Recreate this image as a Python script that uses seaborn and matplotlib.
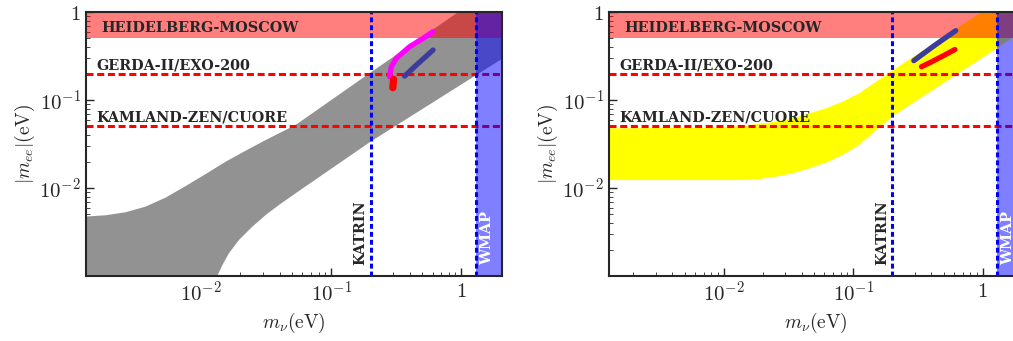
import numpy as np
import matplotlib
matplotlib.use("Agg")
import matplotlib.pyplot as plt
import seaborn as sns
from matplotlib.ticker import LogLocator, NullFormatter

# Axis ranges
X_MIN, X_MAX = 1.3e-3, 2.05
Y_MIN, Y_MAX = 1e-3, 1.0

# Experimental bounds (eV)
hm_low, hm_high = 0.5, 1.0
gerda_limit = 0.2
kamland_limit = 0.05
katrin_limit = 0.2
wmap_limit = 1.3

# Left panel: grey band (upper and lower edges)
grey_upper_m = [1.25e-3, 1.84e-3, 2.62e-3, 3.73e-3, 5.31e-3, 7.57e-3, 0.0108, 0.0154,
                0.0219, 0.0313, 0.0531, 0.2, 0.92, 2.1]
grey_upper_mee = [4.72e-3, 4.90e-3, 5.30e-3, 6.14e-3, 7.76e-3, 0.0105, 0.0144, 0.0199,
                  0.0265, 0.0351, 0.052, 0.205, 0.97, 2.1]
grey_lower_m = [1.25e-3, 0.0125, 0.0128, 0.01327, 0.01452, 0.0163, 0.01945, 0.02466,
                0.03126, 0.03954, 0.0531, 0.2, 1.3, 2.1]
grey_lower_mee = [1e-4, 1e-4, 5e-4, 1e-3, 1.33e-3, 1.81e-3, 2.56e-3, 3.63e-3,
                  4.93e-3, 6.41e-3, 8.71e-3, 0.0336, 0.192, 0.3]

# Right panel: yellow band
yellow_upper_m = [1.25e-3, 7.8e-3, 0.01406, 0.0254, 0.0341, 0.0459, 0.0617, 0.0828,
                  0.111, 0.2, 0.95, 2.1]
yellow_upper_mee = [0.0476, 0.0485, 0.0507, 0.0567, 0.062, 0.0706, 0.0804, 0.0957,
                    0.119, 0.215, 0.97, 2.1]
yellow_lower_m = [1.25e-3, 0.01406, 0.01892, 0.0254, 0.0341, 0.0459, 0.0617, 0.0828,
                  0.111, 0.16, 0.204, 1.3, 2.1]
yellow_lower_mee = [0.0123, 0.0123, 0.01265, 0.01346, 0.01469, 0.01675, 0.0194, 0.0237,
                    0.0308, 0.049, 0.066, 0.39, 0.62]

# Left panel model curves
magenta_m = [0.28, 0.289, 0.316, 0.40, 0.507, 0.605]
magenta_mee = [0.184, 0.239, 0.298, 0.404, 0.502, 0.598]
navy_left_m = [0.366, 0.451, 0.605]
navy_left_mee = [0.187, 0.25, 0.37]
red_left_m = [0.301, 0.297]
red_left_mee = [0.172, 0.138]

# Right panel model curves
navy_right_m = [0.294, 0.428, 0.62]
navy_right_mee = [0.28, 0.42, 0.614]
red_right_m = [0.337, 0.40, 0.5, 0.61]
red_right_mee = [0.239, 0.27, 0.32, 0.375]

GREY = '#929292'
YELLOW = '#ffff00'
NAVY = '#3c3c9e'
LABEL_FONT = ['DejaVu Serif']

sns.set_style("ticks")
plt.rcParams['mathtext.fontset'] = 'cm'
plt.rcParams['axes.linewidth'] = 1.5


def draw_panel(ax, up_m, up_mee, lo_m, lo_mee, band_color, curves):
    """Draw one |m_ee| vs m_nu panel"""
    ax.set_xscale('log')
    ax.set_yscale('log')

    # allowed band as a closed polygon
    poly_x = list(up_m) + list(lo_m)[::-1]
    poly_y = list(up_mee) + list(lo_mee)[::-1]
    ax.fill(poly_x, poly_y, color=band_color, lw=0, zorder=1)

    # Heidelberg-Moscow claim
    ax.axhspan(hm_low, hm_high, color='red', alpha=0.5, lw=0, zorder=2)

    # 0vbb limits
    for lim in (gerda_limit, kamland_limit):
        ax.axhline(lim, color='red', lw=2.2, dashes=(2.3, 1.2), zorder=3)

    # WMAP exclusion
    ax.axvspan(wmap_limit, 10, color='blue', alpha=0.5, lw=0, zorder=4)
    for lim in (katrin_limit, wmap_limit):
        ax.axvline(lim, color='blue', lw=2.2, dashes=(1.6, 1.0), zorder=5)

    for m, mee, col, lw in curves:
        sns.lineplot(x=m, y=mee, ax=ax, color=col, lw=lw, sort=False,
                     solid_capstyle='round', zorder=6)

    txt = dict(family=LABEL_FONT, fontweight='bold', fontsize=10.4, zorder=7)
    ax.text(1.72e-3, 0.6, 'HEIDELBERG-MOSCOW', ha='left', va='baseline', **txt)
    ax.text(1.56e-3, 0.223, 'GERDA-II/EXO-200', ha='left', va='baseline', **txt)
    ax.text(1.56e-3, 0.0577, 'KAMLAND-ZEN/CUORE', ha='left', va='baseline', **txt)
    ax.text(0.19, 1.35e-3, 'KATRIN', rotation=90, ha='right', va='bottom', **txt)
    ax.text(1.57, 1.35e-3, 'WMAP', rotation=90, color='white', ha='center',
            va='bottom', **txt)

    ax.set_xlim(X_MIN, X_MAX)
    ax.set_ylim(Y_MIN, Y_MAX)

    ticks = [0.01, 0.1, 1]
    tick_labels = [r'$\mathbf{10^{-2}}$', r'$\mathbf{10^{-1}}$', r'$\mathbf{1}$']
    ax.set_xticks(ticks)
    ax.set_xticklabels(tick_labels)
    ax.set_yticks(ticks)
    ax.set_yticklabels(tick_labels)
    for axis in (ax.xaxis, ax.yaxis):
        axis.set_minor_locator(LogLocator(base=10, subs=np.arange(2, 10)))
        axis.set_minor_formatter(NullFormatter())
    ax.tick_params(which='both', direction='in', labelsize=15, top=False, right=False)
    ax.tick_params(which='major', length=6, width=1.0)
    ax.tick_params(which='minor', length=3, width=0.6)

    ax.set_xlabel(r'$m_{\nu}(\mathrm{eV})$', fontsize=14, labelpad=4)
    ax.set_ylabel(r'$|m_{ee}|(\mathrm{eV})$', fontsize=14, labelpad=2)
    for sp in ax.spines.values():
        sp.set_zorder(8)


fig = plt.figure(figsize=(10.13, 3.41), dpi=100)
ax_left = fig.add_axes([86 / 1013, 65 / 341, 416 / 1013, 264 / 341])
ax_right = fig.add_axes([609 / 1013, 65 / 341, 414 / 1013, 264 / 341])

draw_panel(ax_left, grey_upper_m, grey_upper_mee, grey_lower_m, grey_lower_mee, GREY,
           [(magenta_m, magenta_mee, '#ff00ff', 3.8),
            (navy_left_m, navy_left_mee, NAVY, 3.8),
            (red_left_m, red_left_mee, 'red', 5.2)])
draw_panel(ax_right, yellow_upper_m, yellow_upper_mee, yellow_lower_m, yellow_lower_mee, YELLOW,
           [(navy_right_m, navy_right_mee, NAVY, 3.8),
            (red_right_m, red_right_mee, 'red', 3.8)])

fig.savefig('out.png', dpi=100)
